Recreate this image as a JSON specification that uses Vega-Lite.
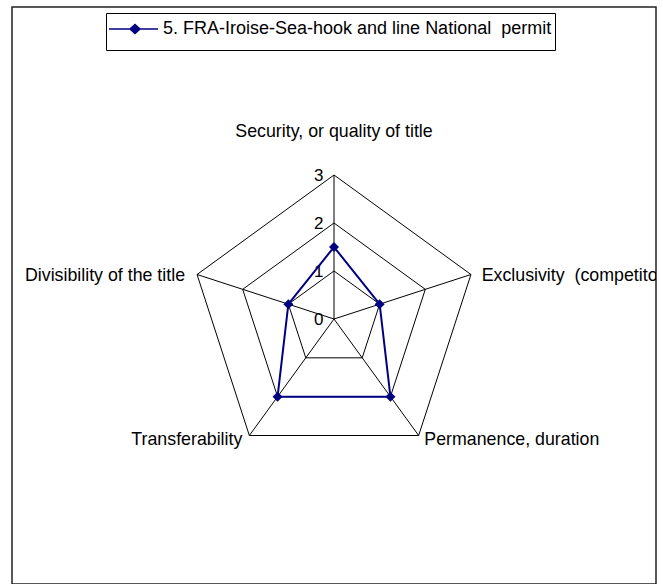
{
  "$schema": "https://vega.github.io/schema/vega-lite/v6.json",
  "width": 644,
  "height": 577,
  "autosize": {"type": "none"},
  "padding": {"left": 12, "top": 7, "right": 7, "bottom": 0},
  "background": "white",
  "view": {"stroke": "#222222", "strokeWidth": 1.5},
  "config": {"text": {"font": "Liberation Sans", "fontSize": 17.8, "color": "black"}},
  "datasets": {
    "series": [
      {"series": "5. FRA-Iroise-Sea-hook and line National\u00a0 permit", "axis": "Security, or quality of title", "idx": 0, "value": 1.5},
      {"series": "5. FRA-Iroise-Sea-hook and line National\u00a0 permit", "axis": "Exclusivity\u00a0 (competitors)", "idx": 1, "value": 1},
      {"series": "5. FRA-Iroise-Sea-hook and line National\u00a0 permit", "axis": "Permanence, duration", "idx": 2, "value": 2},
      {"series": "5. FRA-Iroise-Sea-hook and line National\u00a0 permit", "axis": "Transferability", "idx": 3, "value": 2},
      {"series": "5. FRA-Iroise-Sea-hook and line National\u00a0 permit", "axis": "Divisibility of the title", "idx": 4, "value": 1},
      {"series": "5. FRA-Iroise-Sea-hook and line National\u00a0 permit", "axis": "Security, or quality of title", "idx": 5, "value": 1.5}
    ],
    "grid": [
      {"level": 1, "idx": 0}, {"level": 1, "idx": 1}, {"level": 1, "idx": 2}, {"level": 1, "idx": 3}, {"level": 1, "idx": 4}, {"level": 1, "idx": 5},
      {"level": 2, "idx": 0}, {"level": 2, "idx": 1}, {"level": 2, "idx": 2}, {"level": 2, "idx": 3}, {"level": 2, "idx": 4}, {"level": 2, "idx": 5},
      {"level": 3, "idx": 0}, {"level": 3, "idx": 1}, {"level": 3, "idx": 2}, {"level": 3, "idx": 3}, {"level": 3, "idx": 4}, {"level": 3, "idx": 5}
    ],
    "ticks": [{"level": 0}, {"level": 1}, {"level": 2}, {"level": 3}]
  },
  "layer": [
    {
      "data": {"name": "grid"},
      "transform": [
        {"calculate": "datum.level*sin(datum.idx*2*PI/5)", "as": "gx"},
        {"calculate": "datum.level*cos(datum.idx*2*PI/5)", "as": "gy"}
      ],
      "mark": {"type": "line", "color": "black", "strokeWidth": 1},
      "encoding": {
        "x": {"field": "gx", "type": "quantitative", "scale": {"domain": [-6.7083, 6.7083], "nice": false, "zero": false}, "axis": null},
        "y": {"field": "gy", "type": "quantitative", "scale": {"domain": [-5.5208, 6.5], "nice": false, "zero": false}, "axis": null},
        "detail": {"field": "level", "type": "nominal"},
        "order": {"field": "idx", "type": "quantitative"}
      }
    },
    {
      "data": {"name": "series"},
      "transform": [
        {"filter": "datum.idx < 5"},
        {"calculate": "3*sin(datum.idx*2*PI/5)", "as": "sx"},
        {"calculate": "3*cos(datum.idx*2*PI/5)", "as": "sy"},
        {"calculate": "0", "as": "z"}
      ],
      "mark": {"type": "rule", "color": "black", "strokeWidth": 1},
      "encoding": {
        "x": {"field": "z", "type": "quantitative", "scale": {"domain": [-6.7083, 6.7083], "nice": false, "zero": false}, "axis": null},
        "y": {"field": "z", "type": "quantitative", "scale": {"domain": [-5.5208, 6.5], "nice": false, "zero": false}, "axis": null},
        "x2": {"field": "sx"},
        "y2": {"field": "sy"}
      }
    },
    {
      "data": {"name": "ticks"},
      "transform": [{"calculate": "0", "as": "z"}],
      "mark": {"type": "text", "align": "right", "baseline": "alphabetic", "dx": -10.5, "dy": 5.5, "fontSize": 17},
      "encoding": {
        "x": {"field": "z", "type": "quantitative", "scale": {"domain": [-6.7083, 6.7083], "nice": false, "zero": false}, "axis": null},
        "y": {"field": "level", "type": "quantitative", "scale": {"domain": [-5.5208, 6.5], "nice": false, "zero": false}, "axis": null},
        "text": {"field": "level", "type": "nominal"}
      }
    },
    {
      "data": {"name": "series"},
      "transform": [
        {"calculate": "datum.value*sin(datum.idx*2*PI/5)", "as": "px"},
        {"calculate": "datum.value*cos(datum.idx*2*PI/5)", "as": "py"}
      ],
      "mark": {"type": "line", "color": "#000080", "strokeWidth": 2},
      "encoding": {
        "x": {"field": "px", "type": "quantitative", "scale": {"domain": [-6.7083, 6.7083], "nice": false, "zero": false}, "axis": null},
        "y": {"field": "py", "type": "quantitative", "scale": {"domain": [-5.5208, 6.5], "nice": false, "zero": false}, "axis": null},
        "order": {"field": "idx", "type": "quantitative"}
      }
    },
    {
      "data": {"name": "series"},
      "transform": [
        {"filter": "datum.idx < 5"},
        {"calculate": "datum.value*sin(datum.idx*2*PI/5)", "as": "px"},
        {"calculate": "datum.value*cos(datum.idx*2*PI/5)", "as": "py"}
      ],
      "mark": {"type": "point", "shape": "diamond", "filled": true, "size": 100, "opacity": 1},
      "encoding": {
        "x": {"field": "px", "type": "quantitative", "scale": {"domain": [-6.7083, 6.7083], "nice": false, "zero": false}, "axis": null},
        "y": {"field": "py", "type": "quantitative", "scale": {"domain": [-5.5208, 6.5], "nice": false, "zero": false}, "axis": null},
        "color": {
          "field": "series", "type": "nominal",
          "scale": {"range": ["#000080"]},
          "legend": {
            "title": null, "orient": "none", "legendX": 94, "legendY": 6,
            "padding": 3, "strokeColor": "black", "fillColor": "white",
            "symbolType": "M0,-1.21L0,-1.21M0,1.21L0,1.21M-2.167,0L1.917,0M0,-0.375L0.417,0L0,0.375L-0.417,0Z",
            "symbolSize": 576, "symbolStrokeWidth": 1.5, "symbolOffset": 13, "labelOffset": 15,
            "symbolFillColor": "#000080", "symbolStrokeColor": "#000080", "symbolOpacity": 1,
            "labelFont": "Liberation Sans", "labelFontSize": 18, "labelLimit": 600, "labelColor": "black",
            "encode": {"symbols": {"update": {"fill": {"value": "#000080"}, "stroke": {"value": "#000080"}, "strokeWidth": {"value": 1.5}, "opacity": {"value": 1}}}}
          }
        }
      }
    },
    {
      "data": {"name": "series"},
      "transform": [
        {"filter": "datum.idx == 0"},
        {"calculate": "3*sin(datum.idx*2*PI/5)", "as": "lx"},
        {"calculate": "3*cos(datum.idx*2*PI/5)", "as": "ly"}
      ],
      "mark": {"type": "text", "align": "center", "baseline": "alphabetic", "dy": -38.3},
      "encoding": {
        "x": {"field": "lx", "type": "quantitative", "scale": {"domain": [-6.7083, 6.7083], "nice": false, "zero": false}, "axis": null},
        "y": {"field": "ly", "type": "quantitative", "scale": {"domain": [-5.5208, 6.5], "nice": false, "zero": false}, "axis": null},
        "text": {"field": "axis"}
      }
    },
    {
      "data": {"name": "series"},
      "transform": [
        {"filter": "datum.idx == 1"},
        {"calculate": "3*sin(datum.idx*2*PI/5)", "as": "lx"},
        {"calculate": "3*cos(datum.idx*2*PI/5)", "as": "ly"}
      ],
      "mark": {"type": "text", "align": "left", "baseline": "alphabetic", "dx": 10.7, "dy": 6, "clip": true},
      "encoding": {
        "x": {"field": "lx", "type": "quantitative", "scale": {"domain": [-6.7083, 6.7083], "nice": false, "zero": false}, "axis": null},
        "y": {"field": "ly", "type": "quantitative", "scale": {"domain": [-5.5208, 6.5], "nice": false, "zero": false}, "axis": null},
        "text": {"field": "axis"}
      }
    },
    {
      "data": {"name": "series"},
      "transform": [
        {"filter": "datum.idx == 2"},
        {"calculate": "3*sin(datum.idx*2*PI/5)", "as": "lx"},
        {"calculate": "3*cos(datum.idx*2*PI/5)", "as": "ly"}
      ],
      "mark": {"type": "text", "align": "left", "baseline": "alphabetic", "dx": 5.7, "dy": 10},
      "encoding": {
        "x": {"field": "lx", "type": "quantitative", "scale": {"domain": [-6.7083, 6.7083], "nice": false, "zero": false}, "axis": null},
        "y": {"field": "ly", "type": "quantitative", "scale": {"domain": [-5.5208, 6.5], "nice": false, "zero": false}, "axis": null},
        "text": {"field": "axis"}
      }
    },
    {
      "data": {"name": "series"},
      "transform": [
        {"filter": "datum.idx == 3"},
        {"calculate": "3*sin(datum.idx*2*PI/5)", "as": "lx"},
        {"calculate": "3*cos(datum.idx*2*PI/5)", "as": "ly"}
      ],
      "mark": {"type": "text", "align": "right", "baseline": "alphabetic", "dx": -7, "dy": 10},
      "encoding": {
        "x": {"field": "lx", "type": "quantitative", "scale": {"domain": [-6.7083, 6.7083], "nice": false, "zero": false}, "axis": null},
        "y": {"field": "ly", "type": "quantitative", "scale": {"domain": [-5.5208, 6.5], "nice": false, "zero": false}, "axis": null},
        "text": {"field": "axis"}
      }
    },
    {
      "data": {"name": "series"},
      "transform": [
        {"filter": "datum.idx == 4"},
        {"calculate": "3*sin(datum.idx*2*PI/5)", "as": "lx"},
        {"calculate": "3*cos(datum.idx*2*PI/5)", "as": "ly"}
      ],
      "mark": {"type": "text", "align": "right", "baseline": "alphabetic", "dx": -12, "dy": 6},
      "encoding": {
        "x": {"field": "lx", "type": "quantitative", "scale": {"domain": [-6.7083, 6.7083], "nice": false, "zero": false}, "axis": null},
        "y": {"field": "ly", "type": "quantitative", "scale": {"domain": [-5.5208, 6.5], "nice": false, "zero": false}, "axis": null},
        "text": {"field": "axis"}
      }
    }
  ]
}
